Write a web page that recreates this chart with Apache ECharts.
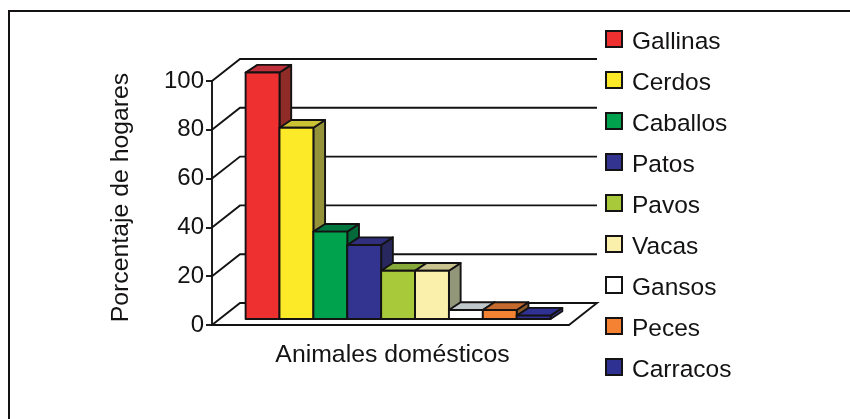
<!DOCTYPE html>
<html><head><meta charset="utf-8">
<style>html,body{margin:0;padding:0;background:#fff}#c{width:850px;height:419px}</style>
<script src="https://cdn.jsdelivr.net/npm/echarts@6/dist/echarts.min.js"></script>
</head><body><div id="c"></div>
<script>
const categories = ['Animales domésticos'];
const animals = ['Gallinas','Cerdos','Caballos','Patos','Pavos','Vacas','Gansos','Peces','Carracos'];
const values = [101,78.4,35.8,30.3,19.8,19.8,3.7,3.7,1.4];
const yTicks = [0,20,40,60,80,100];
const frontColors = ['#ee3030','#fce928','#00a24e','#32348f','#a8c93a','#faf0ac','#ffffff','#f58233','#2f3192'];
const topColors = ['#c0303a','#cbc234','#00773f','#2f2f7d','#86a93a','#c9c48f','#c1c8cc','#c46a2e','#2f3192'];
const sideColors = ['#902c28','#95933a','#006a3a','#28285f','#6f8a30','#93977a','#9a9fa3','#8a5a2a','#3a3f9e'];

const ink = '#141213';
const font = 'Liberation Sans';
const wallDx = 28, wallDy = -22;      // depth of the chart box
const barDx = 11.7, barDy = -7.7;     // depth of a bar
const floorDx = 7.6, floorDy = -6;    // where the bars stand on the floor
const barFrac = 305 / 9 / 357;
const lw = 1.9;

function wallItem(params, api) {
  const v = api.value(0);
  const p = api.coord([0, v]);
  const size = api.size([1, 0])[0];
  const x0 = p[0] - size / 2;
  const x1 = p[0] + size / 2;
  const y = p[1];
  const pts = v === 0
    ? [[x0, y],[x0 + wallDx, y + wallDy],[x1 + wallDx, y + wallDy],[x1, y]]
    : [[x0, y],[x0 + wallDx, y + wallDy],[x1 + wallDx, y + wallDy]];
  return {type:'polyline', shape:{points:pts}, style:{fill:null, stroke:ink, lineWidth:lw}, silent:true};
}

function barRenderer(i) {
  return function (params, api) {
    const top = api.coord([0, api.value(1)]);
    const base = api.coord([0, 0]);
    const size = api.size([1, 0])[0];
    const w = size * barFrac;
    const x = top[0] + floorDx + (i - animals.length / 2) * w;
    const yT = top[1] + floorDy;
    const yB = base[1] + floorDy;
    const st = (fill) => ({fill, stroke:ink, lineWidth:lw, lineJoin:'round'});
    return {type:'group', children:[
      {type:'polygon', shape:{points:[[x + w, yT],[x + w + barDx, yT + barDy],[x + w + barDx, yB + barDy],[x + w, yB]]}, style:st(sideColors[i])},
      {type:'polygon', shape:{points:[[x, yT],[x + barDx, yT + barDy],[x + w + barDx, yT + barDy],[x + w, yT]]}, style:st(topColors[i])},
      {type:'rect', shape:{x, y:yT, width:w, height:yB - yT}, style:st(frontColors[i])}
    ]};
  };
}

const chart = echarts.init(document.getElementById('c'), null, {renderer:'canvas'});
chart.setOption({
  animation:false,
  backgroundColor:'#fff',
  textStyle:{fontFamily:font, color:ink},
  graphic:[{type:'polyline', shape:{points:[[9,419],[9,11],[850,11]]}, style:{fill:null, stroke:ink, lineWidth:2}, silent:true, z:-1}],
  grid:{left:212, top:81, width:357, height:244},
  xAxis:{type:'category', data:categories,
    axisLine:{lineStyle:{color:ink, width:lw}},
    axisTick:{length:6, lineStyle:{color:ink, width:lw}},
    axisLabel:{color:ink, fontSize:24.8, fontFamily:font, margin:18, padding:[0,0,0,4]}},
  yAxis:{type:'value', min:0, max:100, interval:20,
    name:'Porcentaje de hogares', nameLocation:'middle', nameRotate:90, nameGap:78,
    nameTextStyle:{color:ink, fontSize:24.8, fontFamily:font, padding:[0,0,0,11]},
    axisLine:{show:true, lineStyle:{color:ink, width:lw}},
    axisTick:{show:true, length:6, lineStyle:{color:ink, width:lw}},
    axisLabel:{color:ink, fontSize:24, fontFamily:font, margin:8},
    splitLine:{show:false}},
  legend:{orient:'vertical', left:600, top:25, itemWidth:16, itemHeight:16, itemGap:16,
    data:animals, selectedMode:false, icon:'rect',
    formatter:(name)=>'{t|'+name+'}',
    textStyle:{color:ink, fontSize:24.5, fontFamily:font,
      rich:{t:{color:ink, fontSize:24.5, fontFamily:font, padding:[7,0,0,5]}}}},
  series:[
    {type:'custom', name:'paredes', coordinateSystem:'cartesian2d', data:yTicks.map(v=>[v]),
     renderItem:wallItem, silent:true, z:1, clip:false},
    ...animals.map((name,i)=>({type:'custom', name, coordinateSystem:'cartesian2d',
      data:[[0, values[i]]], renderItem:barRenderer(i), z:2+i, clip:false,
      itemStyle:{color:frontColors[i], borderColor:ink, borderWidth:1.9}}))
  ]
});
</script></body></html>
